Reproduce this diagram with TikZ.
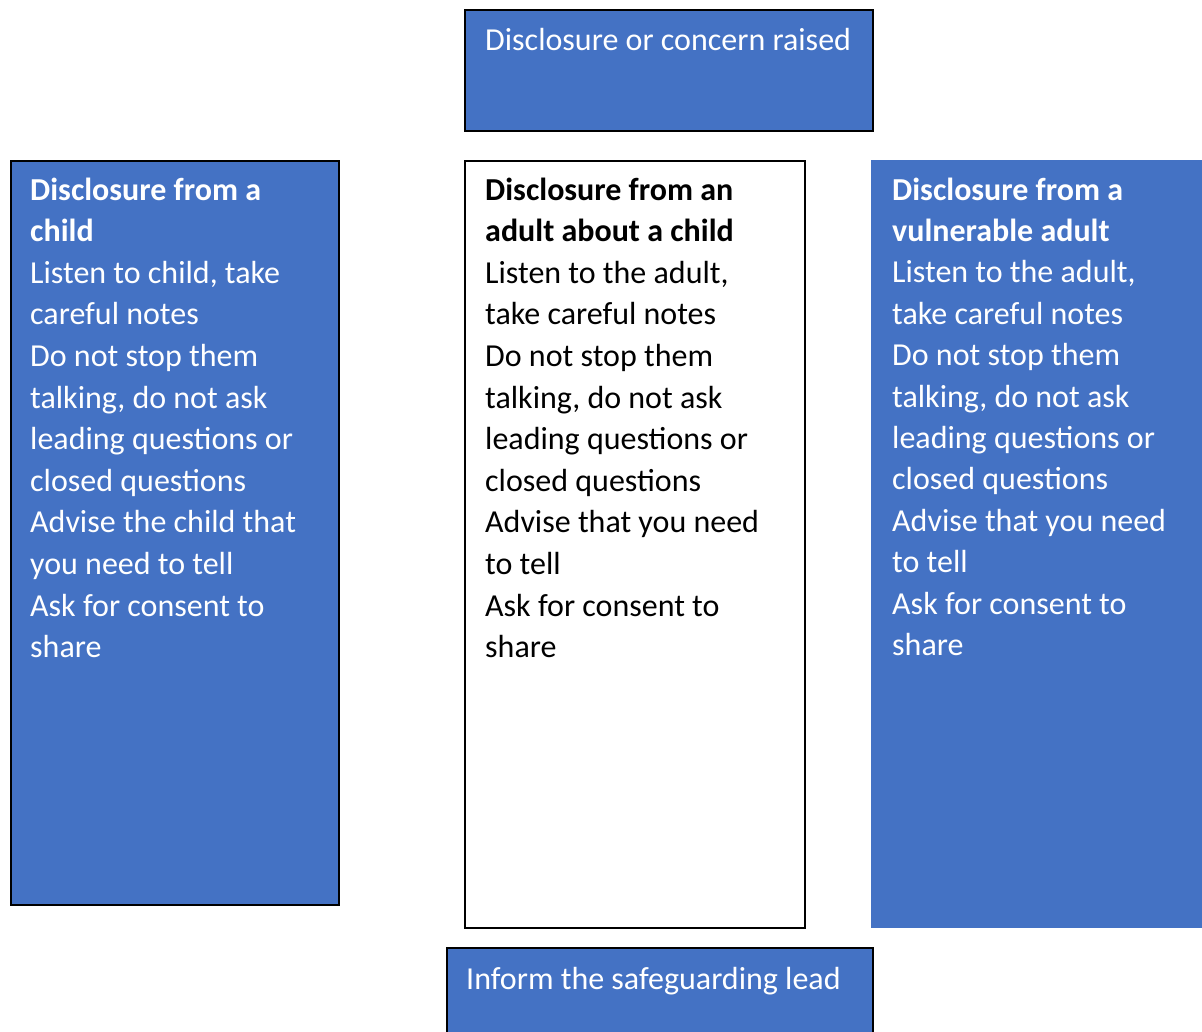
\documentclass[tikz,border=0pt]{standalone}
\usepackage{fontspec}
\setmainfont{Carlito}
\definecolor{boxblue}{HTML}{4472C4}
\tikzset{
  bluebox/.style={fill=boxblue, draw=black, line width=1.5pt, inner sep=0pt, anchor=north west},
  plainbox/.style={fill=boxblue, draw=none, inner sep=0pt, anchor=north west},
  whitebox/.style={fill=white, draw=black, line width=1.5pt, inner sep=0pt, anchor=north west},
  txt/.style={inner sep=0pt, anchor=base west, font=\fontsize{32}{41.6}\selectfont}
}
\newcommand{\ptext}[2]{\parbox[t]{#1pt}{\raggedright #2}}
\begin{document}
\begin{tikzpicture}[x=1pt,y=-1pt]
\useasboundingbox (0,0) rectangle (1202,1031);
% boxes
\node[bluebox, minimum width=408pt, minimum height=121pt] (top) at (464,9) {};
\node[bluebox, minimum width=328pt, minimum height=744pt] (left) at (10,160) {};
\node[whitebox, minimum width=340pt, minimum height=767pt] (mid) at (464,160) {};
\node[plainbox, minimum width=331pt, minimum height=768pt] (right) at (871,160) {};
\begin{scope}
\clip (0,0) rectangle (1202,1031);
\node[bluebox, minimum width=426pt, minimum height=100pt] (bot) at (446,947) {};
\end{scope}
% texts
\node[txt, text=white] (toptxt) at (485,50) {Disclosure or concern raised};
\node[txt, text=white] (lefttxt) at (30,200) {\ptext{320}{\textbf{Disclosure from a}\\
\textbf{child}\\
Listen to child, take\\
careful notes\\
Do not stop them\\
talking, do not ask\\
leading questions or\\
closed questions\\
Advise the child that\\
you need to tell\\
Ask for consent to\\
share}};
\node[txt, text=black] (midtxt) at (485,200) {\ptext{320}{\textbf{Disclosure from an}\\
\textbf{adult about a child}\\
Listen to the adult,\\
take careful notes\\
Do not stop them\\
talking, do not ask\\
leading questions or\\
closed questions\\
Advise that you need\\
to tell\\
Ask for consent to\\
share}};
\node[txt, text=white, font=\fontsize{32}{41.4}\selectfont] (righttxt) at (892,200) {\ptext{320}{\textbf{Disclosure from a}\\
\textbf{vulnerable adult}\\
Listen to the adult,\\
take careful notes\\
Do not stop them\\
talking, do not ask\\
leading questions or\\
closed questions\\
Advise that you need\\
to tell\\
Ask for consent to\\
share}};
\node[txt, text=white] (bottxt) at (466,989) {Inform the safeguarding lead};
\end{tikzpicture}
\end{document}
